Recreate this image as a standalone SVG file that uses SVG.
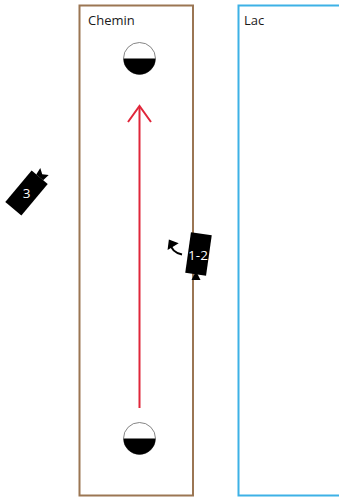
<svg xmlns="http://www.w3.org/2000/svg" width="339" height="497" viewBox="0 0 339 497">
<style>
.lbl{font-family:"Open Sans","Noto Sans",sans-serif;font-size:13px;fill:#1a1a1a}
.cam{font-family:"Open Sans","Noto Sans",sans-serif;font-size:13.500px;fill:#fff;text-anchor:middle;opacity:.99}
.half{fill:#fff;stroke:#666;stroke-width:.8}
.red{fill:none;stroke:#e0263a;stroke-width:2}
</style>
<defs>
<g id="ball"><circle r="16" class="half"/><path d="M-16 0A16 16 0 0 0 16 0Z" fill="#000"/></g>
</defs>
<rect width="339" height="497" fill="#fff"/>
<g id="chemin"><rect x="79.500" y="5.500" width="113.500" height="490" fill="#fff" stroke="#9b7653" stroke-width="2"/><text class="lbl" x="88" y="25">Chemin</text></g>
<g id="lac"><rect x="238.500" y="5.500" width="110" height="490" fill="#fff" stroke="#3db1e6" stroke-width="2"/><text class="lbl" x="244" y="25">Lac</text></g>
<g id="ball-top"><use href="#ball" x="139.500" y="58.500"/></g>
<g id="ball-bottom"><use href="#ball" x="139.500" y="438.500"/></g>
<g id="connectors">
<path class="red" d="M139.500 408V107"/>
<path class="red" d="M128 122L139.500 106L151 122"/>
<path d="M182 254.500C175 253 171 249 170.500 243" fill="none" stroke="#000" stroke-width="2"/>
<path d="M168.500 248.500L169.500 240.500L177 243.500Z" fill="#000" stroke="#000" stroke-width="1.500"/>
</g>
<g id="camera-3"><g transform="translate(26.500 193) rotate(40)">
<rect x="-10.500" y="-20.500" width="21" height="41" fill="#000"/>
<path d="M-4.500 -20.500L-5.500 -28L0 -24.500L5.500 -28L4.500 -20.500Z" fill="#000"/>
</g><text class="cam" x="26.500" y="198">3</text></g>
<g id="camera-1-2"><g transform="translate(198.500 254) rotate(8)">
<rect x="-10.500" y="-20.500" width="21" height="41" fill="#000"/>
</g><path d="M196 271L191.500 280H200.500Z" fill="#000"/><text class="cam" x="198" y="260">1-2</text></g>
</svg>
